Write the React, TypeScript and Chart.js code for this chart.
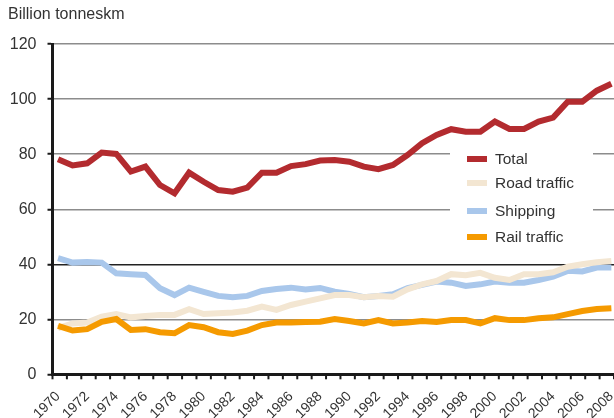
import React, { useEffect, useRef } from "react";
import { Chart, registerables } from "chart.js";

Chart.register(...registerables);

const years = [
  1970, 1971, 1972, 1973, 1974, 1975, 1976, 1977, 1978, 1979,
  1980, 1981, 1982, 1983, 1984, 1985, 1986, 1987, 1988, 1989,
  1990, 1991, 1992, 1993, 1994, 1995, 1996, 1997, 1998, 1999,
  2000, 2001, 2002, 2003, 2004, 2005, 2006, 2007, 2008,
];

const xTickLabels = [
  1970, 1972, 1974, 1976, 1978, 1980, 1982, 1984, 1986, 1988,
  1990, 1992, 1994, 1996, 1998, 2000, 2002, 2004, 2006, 2008,
];

const yTicks = [0, 20, 40, 60, 80, 100, 120];

const total = [
  78.2, 75.9, 76.7, 80.6, 80.1, 73.7, 75.5, 68.8, 65.8, 73.3,
  70.0, 67.0, 66.4, 67.9, 73.3, 73.3, 75.7, 76.4, 77.7, 77.9,
  77.3, 75.5, 74.6, 76.1, 79.7, 84.0, 87.0, 89.1, 88.2, 88.2,
  91.9, 89.2, 89.2, 91.9, 93.3, 99.1, 99.1, 103.1, 105.6,
];

const roadTraffic = [
  16.8, 18.5, 18.8, 21.0, 21.9, 20.7, 21.2, 21.6, 21.6, 23.7,
  21.9, 22.2, 22.5, 23.1, 24.6, 23.4, 25.2, 26.4, 27.6, 28.8,
  28.8, 28.0, 28.5, 28.2, 30.9, 32.7, 33.9, 36.4, 36.0, 36.9,
  35.1, 34.3, 36.4, 36.4, 37.1, 39.1, 40.0, 40.7, 41.2,
];

const shipping = [
  42.2, 40.6, 40.8, 40.6, 36.7, 36.4, 36.1, 31.3, 28.8, 31.5,
  30.0, 28.5, 28.0, 28.5, 30.3, 31.0, 31.5, 30.8, 31.4, 30.0,
  29.2, 28.0, 28.5, 29.1, 31.3, 32.5, 33.7, 33.3, 32.1, 32.7,
  33.7, 33.3, 33.3, 34.3, 35.5, 37.6, 37.4, 38.8, 38.8,
];

const railTraffic = [
  17.6, 15.9, 16.4, 19.1, 20.1, 16.1, 16.4, 15.3, 14.9, 17.9,
  17.1, 15.3, 14.7, 15.9, 17.9, 18.8, 18.8, 19.0, 19.1, 20.1,
  19.4, 18.5, 19.7, 18.5, 18.8, 19.4, 19.0, 19.7, 19.7, 18.5,
  20.4, 19.7, 19.7, 20.4, 20.7, 21.9, 23.0, 23.7, 24.0,
];

const seriesNames = ["Total", "Road traffic", "Shipping", "Rail traffic"];
const seriesColors = ["#B32B2F", "#F3E6D2", "#A9C7EB", "#F59A00"];
const drawOrder = [0, 2, 3, 1];

const FONT = "'Liberation Sans', Arial, sans-serif";
const TEXT = "#333333";
const AXIS = "#1a1a1a";

const xTickMarks = {
  id: "xTickMarks",
  afterDraw(chart: any) {
    const { ctx, chartArea } = chart;
    const n = years.length;
    const step = (chartArea.right - chartArea.left) / n;
    ctx.save();
    ctx.strokeStyle = AXIS;
    ctx.lineWidth = 2;
    for (let k = 0; k <= n; k++) {
      const x = chartArea.left + k * step;
      ctx.beginPath();
      ctx.moveTo(x, chartArea.bottom);
      ctx.lineTo(x, chartArea.bottom + 5);
      ctx.stroke();
    }
    ctx.restore();
  },
};

const boxLegend = {
  id: "boxLegend",
  beforeDatasetsDraw(chart: any) {
    const { ctx } = chart;
    ctx.save();
    ctx.fillStyle = "#ffffff";
    ctx.fillRect(450, 142, 143, 106);
    const rows = [159, 183, 211, 237];
    ctx.font = `15.5px ${FONT}`;
    ctx.textBaseline = "middle";
    ctx.textAlign = "left";
    seriesNames.forEach((name, i) => {
      ctx.fillStyle = seriesColors[i];
      ctx.fillRect(467, rows[i] - 3, 20, 6);
      ctx.fillStyle = TEXT;
      ctx.fillText(name, 495, rows[i] + 1);
    });
    ctx.restore();
  },
};

export default function App() {
  const ref = useRef<HTMLCanvasElement>(null);

  useEffect(() => {
    const seriesData = [total, roadTraffic, shipping, railTraffic];
    const chart = new Chart(ref.current as HTMLCanvasElement, {
      type: "line",
      data: {
        datasets: seriesNames.map((name, i) => ({
          label: name,
          data: seriesData[i].map((v, j) => ({ x: years[j], y: v })),
          borderColor: seriesColors[i],
          backgroundColor: seriesColors[i],
          borderWidth: 6,
          pointRadius: 0,
          tension: 0,
          fill: false,
          order: drawOrder[i],
        })),
      },
      options: {
        responsive: false,
        animation: false,
        devicePixelRatio: 1,
        layout: { padding: { left: 8, right: 0, top: 0, bottom: 0 } },
        plugins: {
          legend: { display: false },
          tooltip: { enabled: false },
          title: {
            display: true,
            text: "Billion tonneskm",
            align: "start",
            color: TEXT,
            font: { family: FONT, size: 16, weight: "normal" },
            padding: { top: 5, bottom: 20 },
          },
        },
        scales: {
          x: {
            type: "linear",
            min: 1969.62,
            max: 2008.18,
            afterBuildTicks: (scale: any) => {
              scale.ticks = xTickLabels.map((v) => ({ value: v }));
            },
            afterFit: (scale: any) => {
              scale.height = 43.7;
              scale.paddingRight = 0;
              scale.paddingLeft = 0;
            },
            grid: { display: false },
            border: { display: true, color: AXIS, width: 3 },
            ticks: {
              autoSkip: false,
              minRotation: 45,
              maxRotation: 45,
              padding: 6,
              color: TEXT,
              font: { family: FONT, size: 14 },
              callback: (v: any) => String(v),
            },
          },
          y: {
            min: 0,
            max: 120,
            afterBuildTicks: (scale: any) => {
              scale.ticks = yTicks.map((v) => ({ value: v }));
            },
            afterFit: (scale: any) => {
              scale.width = 44.5;
            },
            grid: {
              color: (c: any) => (c.tick && c.tick.value === 40 ? "#222222" : "#8c8c8c"),
              lineWidth: 1.5,
              tickLength: 5,
              tickColor: AXIS,
              tickWidth: 2,
            },
            border: { display: true, color: AXIS, width: 3 },
            ticks: {
              padding: 11,
              color: TEXT,
              font: { family: FONT, size: 16 },
              callback: (v: any) => String(v),
            },
          },
        },
      },
      plugins: [boxLegend, xTickMarks],
    });
    return () => chart.destroy();
  }, []);

  return (
    <div
      style={{
        position: "fixed",
        left: 0,
        top: 0,
        width: 614,
        height: 418,
        background: "#ffffff",
        overflow: "hidden",
      }}
    >
      <canvas ref={ref} width={614} height={418} style={{ display: "block" }} />
    </div>
  );
}
